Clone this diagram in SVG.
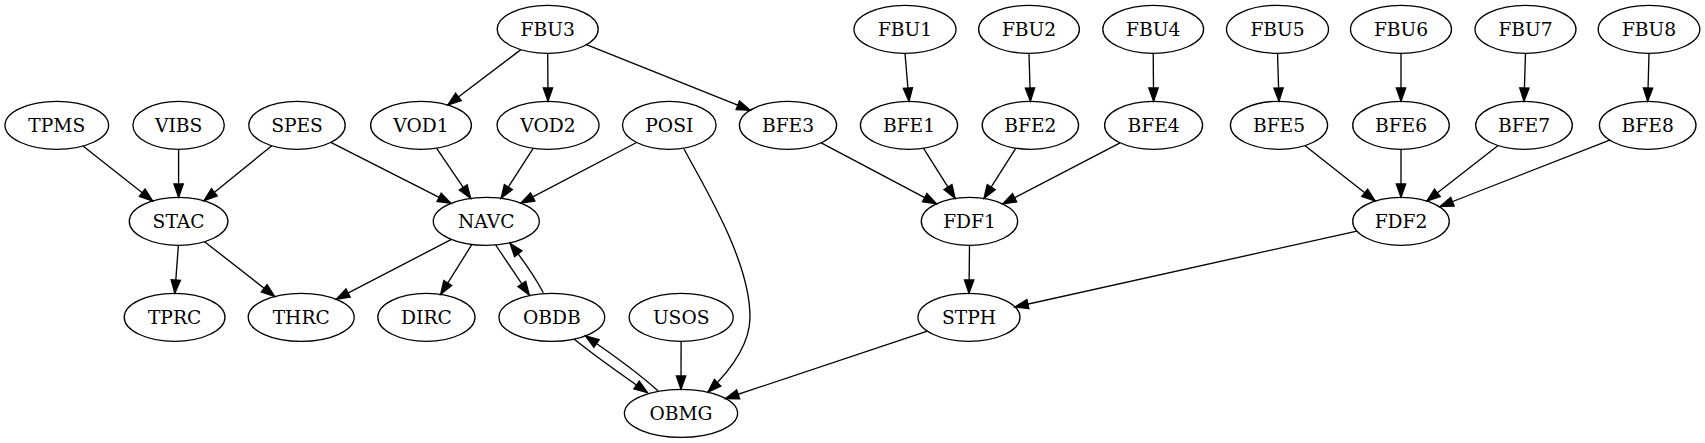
<svg xmlns="http://www.w3.org/2000/svg" width="1705" height="443" viewBox="0 0 1705 443">
<style>
.n ellipse{fill:none;stroke:#000;stroke-width:1.33}
.n text{font-family:"DejaVu Serif","Liberation Serif",serif;font-size:18.67px;text-anchor:middle;fill:#000}
.e path{fill:none;stroke:#000;stroke-width:1.33;marker-end:url(#ah)}
</style>
<defs>
<marker id="ah" markerUnits="userSpaceOnUse" markerWidth="16" markerHeight="12" refX="13.33" refY="5" orient="auto" overflow="visible">
<path d="M0,0.33 L13.33,5 L0,9.67 z" fill="#000" stroke="#000" stroke-width="1.33"/>
</marker>
</defs>
<rect width="1705" height="443" fill="#fff"/>
<g id="edges" class="e">
<path d="M520.9,49.6 L447.8,105"/>
<path d="M547.7,53.3 L548,101.3"/>
<path d="M586.4,44.7 L750.2,110.2"/>
<path d="M905,53.3 L909,101.3"/>
<path d="M1029,53.3 L1030.4,101.3"/>
<path d="M1153.2,53.3 L1153.6,101.3"/>
<path d="M1277.5,53.3 L1279,101.3"/>
<path d="M1401,53.3 L1401,101.3"/>
<path d="M1525.5,53.3 L1524,101.3"/>
<path d="M1649,53.3 L1647.7,101.3"/>
<path d="M83,146 L152.7,200.9"/>
<path d="M178.6,149.3 L178.6,197.3"/>
<path d="M271.8,145.8 L204,200.7"/>
<path d="M330.8,142.4 L451,203.4"/>
<path d="M436.5,148.1 L470.7,198.4"/>
<path d="M533.2,148.3 L501.1,198.3"/>
<path d="M636.6,142.5 L520.9,203.1"/>
<path d="M684,149 C703,185 750,260 750,317 C750,345 731,370 708,392"/>
<path d="M821.2,142.8 L936.5,203.8"/>
<path d="M923.4,148.2 L955.1,198.4"/>
<path d="M1015.9,148.2 L984,198.4"/>
<path d="M1120.1,142.8 L1002.8,203.9"/>
<path d="M1304.8,145.6 L1375.2,201"/>
<path d="M1401,149.3 L1401,197.3"/>
<path d="M1498.1,145.5 L1426.9,201.1"/>
<path d="M1609.7,140.1 L1440,206.5"/>
<path d="M178.4,245.3 L174.8,293.3"/>
<path d="M204.6,241.7 L274.7,296.5"/>
<path d="M451.4,239.4 L336.3,299.2"/>
<path d="M471.9,244.4 L440.7,294.4"/>
<path d="M495.7,245 L529.3,295"/>
<path d="M543.3,292.7 C535,277 524,261 510,243.3"/>
<path d="M969.5,245.3 L969,293.3"/>
<path d="M1356.9,231.1 L1014.9,307"/>
<path d="M574,339 C595,356 622,375 647.5,392.7"/>
<path d="M657.9,390.7 C637,372 612,354 585.5,336"/>
<path d="M681.1,341.3 L681,389.3"/>
<path d="M927.4,331.2 L725.5,398.5"/>
</g>
<g id="node-FBU3" class="n"><ellipse cx="547.7" cy="29.3" rx="50.5" ry="24"/><text x="547.7" y="35.9">FBU3</text></g>
<g id="node-FBU1" class="n"><ellipse cx="905" cy="29.3" rx="51" ry="24"/><text x="905" y="35.9">FBU1</text></g>
<g id="node-FBU2" class="n"><ellipse cx="1029" cy="29.3" rx="50.4" ry="24"/><text x="1029" y="35.9">FBU2</text></g>
<g id="node-FBU4" class="n"><ellipse cx="1153.2" cy="29.3" rx="50.4" ry="24"/><text x="1153.2" y="35.9">FBU4</text></g>
<g id="node-FBU5" class="n"><ellipse cx="1277.5" cy="29.3" rx="51" ry="24"/><text x="1277.5" y="35.9">FBU5</text></g>
<g id="node-FBU6" class="n"><ellipse cx="1401" cy="29.3" rx="50.5" ry="24"/><text x="1401" y="35.9">FBU6</text></g>
<g id="node-FBU7" class="n"><ellipse cx="1525.5" cy="29.3" rx="50.5" ry="24"/><text x="1525.5" y="35.9">FBU7</text></g>
<g id="node-FBU8" class="n"><ellipse cx="1649" cy="29.3" rx="50.8" ry="24"/><text x="1649" y="35.9">FBU8</text></g>
<g id="node-TPMS" class="n"><ellipse cx="56.8" cy="125.3" rx="51.8" ry="24"/><text x="56.8" y="131.9">TPMS</text></g>
<g id="node-VIBS" class="n"><ellipse cx="178.6" cy="125.3" rx="45.7" ry="24"/><text x="178.6" y="131.9">VIBS</text></g>
<g id="node-SPES" class="n"><ellipse cx="297" cy="125.3" rx="48.2" ry="24"/><text x="297" y="131.9">SPES</text></g>
<g id="node-VOD1" class="n"><ellipse cx="421" cy="125.3" rx="50.4" ry="24"/><text x="421" y="131.9">VOD1</text></g>
<g id="node-VOD2" class="n"><ellipse cx="548" cy="125.3" rx="51" ry="24"/><text x="548" y="131.9">VOD2</text></g>
<g id="node-POSI" class="n"><ellipse cx="669.3" cy="125.3" rx="46.8" ry="24"/><text x="669.3" y="131.9">POSI</text></g>
<g id="node-BFE3" class="n"><ellipse cx="788" cy="125.3" rx="48.6" ry="24"/><text x="788" y="131.9">BFE3</text></g>
<g id="node-BFE1" class="n"><ellipse cx="909" cy="125.3" rx="48.6" ry="24"/><text x="909" y="131.9">BFE1</text></g>
<g id="node-BFE2" class="n"><ellipse cx="1030.4" cy="125.3" rx="48.2" ry="24"/><text x="1030.4" y="131.9">BFE2</text></g>
<g id="node-BFE4" class="n"><ellipse cx="1153.6" cy="125.3" rx="49" ry="24"/><text x="1153.6" y="131.9">BFE4</text></g>
<g id="node-BFE5" class="n"><ellipse cx="1279" cy="125.3" rx="48.6" ry="24"/><text x="1279" y="131.9">BFE5</text></g>
<g id="node-BFE6" class="n"><ellipse cx="1401" cy="125.3" rx="48.3" ry="24"/><text x="1401" y="131.9">BFE6</text></g>
<g id="node-BFE7" class="n"><ellipse cx="1524" cy="125.3" rx="48.3" ry="24"/><text x="1524" y="131.9">BFE7</text></g>
<g id="node-BFE8" class="n"><ellipse cx="1647.7" cy="125.3" rx="48.3" ry="24"/><text x="1647.7" y="131.9">BFE8</text></g>
<g id="node-STAC" class="n"><ellipse cx="178.6" cy="221.3" rx="49.3" ry="24"/><text x="178.6" y="227.9">STAC</text></g>
<g id="node-NAVC" class="n"><ellipse cx="486.3" cy="221.3" rx="53" ry="24"/><text x="486.3" y="227.9">NAVC</text></g>
<g id="node-FDF1" class="n"><ellipse cx="969.5" cy="221.3" rx="48.2" ry="24"/><text x="969.5" y="227.9">FDF1</text></g>
<g id="node-FDF2" class="n"><ellipse cx="1401" cy="221.3" rx="48.3" ry="24"/><text x="1401" y="227.9">FDF2</text></g>
<g id="node-TPRC" class="n"><ellipse cx="174.6" cy="317.3" rx="50.4" ry="24"/><text x="174.6" y="323.9">TPRC</text></g>
<g id="node-THRC" class="n"><ellipse cx="301.2" cy="317.3" rx="53" ry="24"/><text x="301.2" y="323.9">THRC</text></g>
<g id="node-DIRC" class="n"><ellipse cx="426.4" cy="317.3" rx="48.6" ry="24"/><text x="426.4" y="323.9">DIRC</text></g>
<g id="node-OBDB" class="n"><ellipse cx="551.8" cy="317.3" rx="52.9" ry="24"/><text x="551.8" y="323.9">OBDB</text></g>
<g id="node-USOS" class="n"><ellipse cx="681.2" cy="317.3" rx="52" ry="24"/><text x="681.2" y="323.9">USOS</text></g>
<g id="node-STPH" class="n"><ellipse cx="969" cy="317.3" rx="51" ry="24"/><text x="969" y="323.9">STPH</text></g>
<g id="node-OBMG" class="n"><ellipse cx="681" cy="413.3" rx="56.6" ry="24"/><text x="681" y="419.9">OBMG</text></g>
</svg>
